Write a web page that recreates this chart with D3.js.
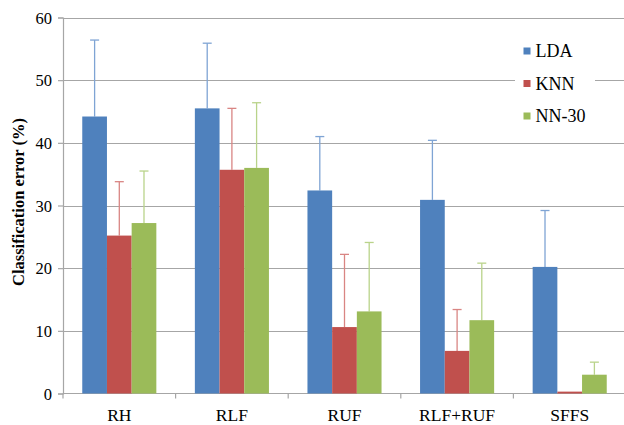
<!DOCTYPE html>
<html>
<head>
<meta charset="utf-8">
<script src="https://cdn.jsdelivr.net/npm/d3@7/dist/d3.min.js"></script>
<style>
  html, body { margin: 0; padding: 0; background: #fff; }
  svg { display: block; }
</style>
</head>
<body>
<svg id="chart" width="624" height="425"></svg>
<script>
// Feature sets compared on the x axis
const categories = ["RH", "RLF", "RUF", "RLF+RUF", "SFFS"];
// Classifiers (one bar per classifier in each group)
const seriesNames = ["LDA", "KNN", "NN-30"];
// Mean classification error (%) per feature set
const ldaMean  = [44.2, 45.5, 32.4, 30.9, 20.2];
const knnMean  = [25.2, 35.7, 10.6, 6.8, 0.3];
const nnMean   = [27.2, 36.0, 13.1, 11.7, 3.0];
// Upper end of the error bar (mean + standard deviation)
const ldaUpper = [56.4, 55.9, 41.0, 40.4, 29.2];
const knnUpper = [33.8, 45.5, 22.2, 13.4, 0.3];
const nnUpper  = [35.5, 46.4, 24.1, 20.8, 5.0];
const yTicks = [0, 10, 20, 30, 40, 50, 60];

const series = [
  { name: "LDA",   mean: ldaMean, upper: ldaUpper, fill: "#4F81BD", err: "#7FA4D4" },
  { name: "KNN",   mean: knnMean, upper: knnUpper, fill: "#C0504D", err: "#D98583" },
  { name: "NN-30", mean: nnMean,  upper: nnUpper,  fill: "#9BBB59", err: "#B9D38A" }
];

const svg = d3.select("#chart");
const serif = "Liberation Serif";

const x0 = d3.scaleBand().domain(categories).range([63, 626]).paddingInner(0).paddingOuter(0);
const x1 = d3.scaleBand().domain(seriesNames).range([0, x0.bandwidth()]).paddingInner(0).paddingOuter(0.78);
const y = d3.scaleLinear().domain([0, 60]).range([393.5, 17.5]);

// Horizontal gridlines
svg.append("g")
  .selectAll("line")
  .data(yTicks.filter(t => t > 0))
  .join("line")
  .attr("x1", 63).attr("x2", 626)
  .attr("y1", d => Math.round(y(d)) + 0.5).attr("y2", d => Math.round(y(d)) + 0.5)
  .attr("stroke", "#A6A6A6").attr("stroke-width", 1.2);

// Y axis
const yAxis = svg.append("g")
  .attr("transform", "translate(63,0)")
  .call(d3.axisLeft(y).tickValues(yTicks).tickSize(5).tickPadding(6));
yAxis.select(".domain").attr("stroke", "#A6A6A6").attr("stroke-width", 1.2);
yAxis.selectAll(".tick line").attr("stroke", "#A6A6A6").attr("stroke-width", 1.2);
yAxis.selectAll(".tick text")
  .style("font-family", serif).style("font-size", "16.5px").attr("fill", "#000")
  .attr("dy", "0.35em");

// X axis with ticks at group boundaries
const xAxisG = svg.append("g").attr("transform", `translate(0,${y(0)})`);
xAxisG.append("line")
  .attr("x1", 63).attr("x2", 626).attr("y1", 0).attr("y2", 0)
  .attr("stroke", "#A6A6A6").attr("stroke-width", 1.2);
xAxisG.selectAll("line.tick")
  .data(categories.concat(["end"]))
  .join("line").attr("class", "tick")
  .attr("x1", (d, i) => 63 + i * x0.step()).attr("x2", (d, i) => 63 + i * x0.step())
  .attr("y1", 0).attr("y2", 5)
  .attr("stroke", "#A6A6A6").attr("stroke-width", 1.2);
xAxisG.selectAll("text")
  .data(categories)
  .join("text")
  .attr("x", d => x0(d) + x0.bandwidth() / 2)
  .attr("y", 27)
  .attr("text-anchor", "middle")
  .style("font-family", serif).style("font-size", "17.5px").style("fill", "#000")
  .text(d => d);

// Bars and error bars
const groups = svg.append("g")
  .selectAll("g")
  .data(categories)
  .join("g")
  .attr("transform", d => `translate(${x0(d)},0)`);

series.forEach(s => {
  groups.each(function (c, i) {
    const g = d3.select(this);
    const mean = s.mean[i], upper = s.upper[i];
    const bx = x1(s.name);
    const bw = x1.bandwidth();
    const cx = bx + bw / 2;
    if (upper > mean) {
      g.append("line")
        .attr("x1", cx).attr("x2", cx)
        .attr("y1", y(mean)).attr("y2", y(upper))
        .attr("stroke", s.err).attr("stroke-width", 1.3);
      g.append("line")
        .attr("x1", cx - 4.5).attr("x2", cx + 4.5)
        .attr("y1", y(upper)).attr("y2", y(upper))
        .attr("stroke", s.err).attr("stroke-width", 1.3);
    }
    g.append("rect")
      .attr("x", bx).attr("width", bw)
      .attr("y", y(mean)).attr("height", y(0) - y(mean))
      .attr("fill", s.fill);
  });
});

// Y axis title
svg.append("text")
  .attr("transform", "translate(24,202) rotate(-90)")
  .attr("text-anchor", "middle")
  .style("font-family", serif).style("font-weight", "bold").style("font-size", "16.5px").style("fill", "#000")
  .text("Classification error (%)");

// Legend
const legend = svg.append("g").attr("transform", "translate(515,36)");
legend.append("rect")
  .attr("x", 0).attr("y", 0).attr("width", 80).attr("height", 96)
  .attr("fill", "#fff");
const items = legend.selectAll("g.item")
  .data(series)
  .join("g").attr("class", "item")
  .attr("transform", (d, i) => `translate(0,${15 + i * 32.5})`);
items.append("rect")
  .attr("x", 8.5).attr("y", -3.5).attr("width", 7).attr("height", 7)
  .attr("fill", d => d.fill);
items.append("text")
  .attr("x", 20.5).attr("y", 0).attr("dy", "0.35em")
  .style("font-family", serif).style("font-size", "18px").style("fill", "#000")
  .text(d => d.name);
</script>
</body>
</html>
